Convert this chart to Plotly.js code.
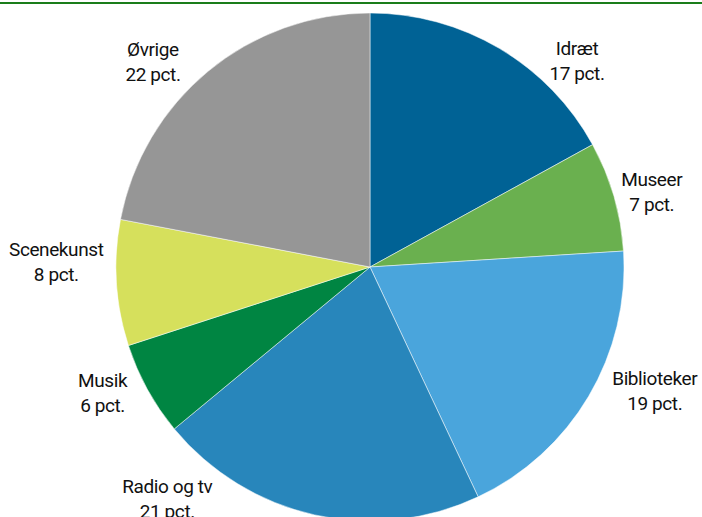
<!DOCTYPE html>
<html>
<head>
<meta charset="utf-8">
<script src="https://cdn.plot.ly/plotly-3.0.1.min.js"></script>
<style>
html,body{margin:0;padding:0;overflow:hidden;background:#fff;}
#chart{width:702px;height:540px;}
#chart .annotation-text{letter-spacing:-0.4px;}
</style>
</head>
<body>
<div id="chart"></div>
<script>
// Data
const categories = ["Idræt", "Museer", "Biblioteker", "Radio og tv", "Musik", "Scenekunst", "Øvrige"];
const shares = [17, 7, 19, 21, 6, 8, 22];
const unitLabel = "pct.";

// Styling
const colors = ["#006295", "#6ab04f", "#4aa5dc", "#2886bb", "#008542", "#d6e05c", "#969696"];
// label centres in pixels (text placement only)
const labelPx = [[577, 61], [652, 192], [655, 391], [167, 499], [102, 393], [56, 262], [153, 62]];

const W = 702, H = 540;
const cx = 370, cy = 267, r = 254;

const annotations = categories.map((c, i) => ({
  x: labelPx[i][0] / W,
  y: 1 - labelPx[i][1] / H,
  xref: "paper", yref: "paper",
  xanchor: "center", yanchor: "middle",
  showarrow: false,
  align: "center",
  text: c + "<br>" + shares[i] + " " + unitLabel,
  font: {family: "Roboto, sans-serif", size: 19, color: "#111"}
}));

const trace = {
  type: "pie",
  values: shares,
  labels: categories,
  sort: false,
  direction: "clockwise",
  rotation: 0,
  textinfo: "none",
  hoverinfo: "label+percent",
  marker: {colors: colors, line: {color: "#ffffff", width: 0.5}},
  domain: {x: [(cx - r) / W, (cx + r) / W], y: [1 - (cy + r) / H, 1 - (cy - r) / H]},
  showlegend: false
};

const layout = {
  width: W, height: H,
  margin: {l: 0, r: 0, t: 0, b: 0},
  paper_bgcolor: "#ffffff",
  showlegend: false,
  annotations: annotations,
  shapes: [{type: "line", xref: "paper", yref: "paper", x0: 0, x1: 1, y0: 1 - 3 / H, y1: 1 - 3 / H,
            line: {color: "#1a7d1a", width: 2}}]
};

Plotly.newPlot("chart", [trace], layout, {displayModeBar: false, staticPlot: true});
</script>
</body>
</html>
